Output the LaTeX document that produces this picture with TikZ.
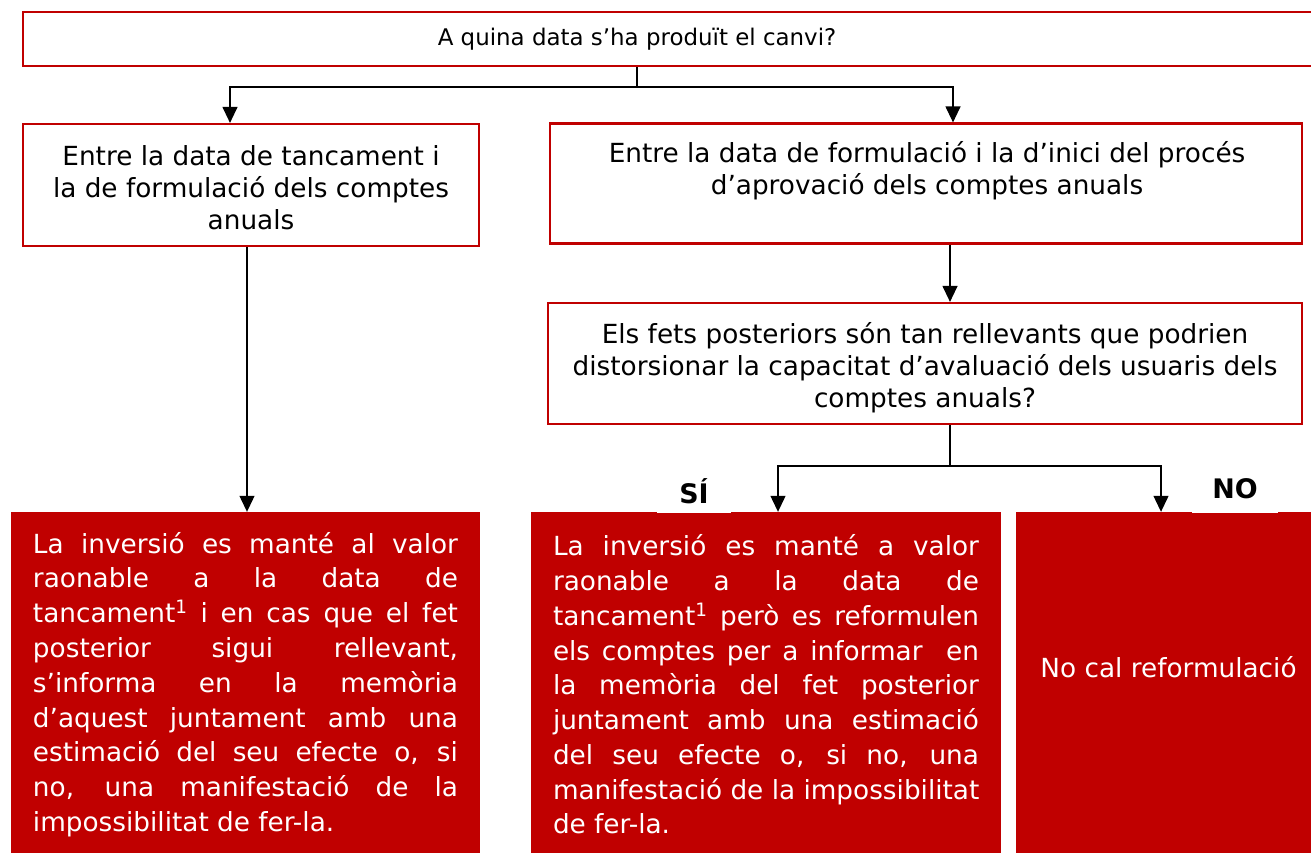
\documentclass[tikz,border=0pt]{standalone}
\usepackage{fontspec}
\setmainfont{DejaVu Sans}
\usetikzlibrary{arrows.meta,calc}
\definecolor{dred}{RGB}{192,0,0}
\newlength{\jw}
\newcommand{\jline}[1]{\hbox to \jw{\spaceskip=0.318em plus 1fil\relax #1}}
\newcommand{\lline}[1]{\hbox to \jw{#1\hfil}}
\tikzset{
  frame/.style={draw=dred, line width=2.2bp, fill=white, inner sep=0pt},
  redbox/.style={fill=dred, draw=none, text=white, inner sep=0pt},
  conn/.style={draw=black, line width=1.2bp},
  arr/.style={conn, -{Triangle[width=15bp,length=16bp]}},
  txt/.style={font=\fontsize{26.4}{32}\selectfont, align=center, inner sep=0pt},
  toptxt/.style={font=\fontsize{23}{28}\selectfont, inner sep=0pt},
  rtxt/.style={font=\fontsize{26.4}{34.9}\selectfont},
  lbl/.style={fill=white, font=\fontsize{27}{30}\selectfont\bfseries, inner sep=0pt, anchor=south},
}
\begin{document}
\begin{tikzpicture}[x=1bp,y=-1bp]
\useasboundingbox (0,0) rectangle (1311,852);
\clip (0,0) rectangle (1311,852);

% top box
\node[frame, minimum width=1298bp, minimum height=54bp, anchor=north west] (top) at (22,11) {};
\node[toptxt] (toptext) at (637,39.5) {A quina data s’ha produït el canvi?};

% second row
\node[frame, minimum width=456bp, minimum height=122bp] (left) at (251,185) {};
\node[txt] (lefttext) at (251,187.5)
  {Entre la data de tancament i\\la de formulació dels comptes\\anuals};
\node[frame, minimum width=752bp, minimum height=120bp] (right) at (926,183.5) {};
\node[txt] (righttext) at (927,171)
  {Entre la data de formulació i la d’inici del procés\\d’aprovació dels comptes anuals};

% question
\node[frame, minimum width=754bp, minimum height=121bp] (quest) at (925,363.5) {};
\node[txt] (questtext) at (925,367.5)
  {Els fets posteriors són tan rellevants que podrien\\distorsionar la capacitat d’avaluació dels usuaris dels\\comptes anuals?};

% red boxes
\node[redbox, minimum width=469bp, minimum height=345bp, rtxt] (res1) at (245.5,684.5) {%
\setlength{\jw}{425bp}\parbox{425bp}{%
\jline{La inversió es manté al valor}
\jline{raonable a la data de}
\jline{tancament\textsuperscript{1} i en cas que el fet}
\jline{posterior sigui rellevant,}
\jline{s’informa en la memòria}
\jline{d’aquest juntament amb una}
\jline{estimació del seu efecte o, si}
\jline{no, una manifestació de la}
\lline{impossibilitat de fer-la.}}};

\node[redbox, minimum width=470bp, minimum height=345bp, rtxt] (res2) at (766,684.5) {%
\setlength{\jw}{426bp}\parbox{426bp}{%
\jline{La inversió es manté a valor}
\jline{raonable a la data de}
\jline{tancament\textsuperscript{1} però es reformulen}
\jline{els comptes per a informar\ \ en}
\jline{la memòria del fet posterior}
\jline{juntament amb una estimació}
\jline{del seu efecte o, si no, una}
\jline{manifestació de la impossibilitat}
\lline{de fer-la.}}};

\node[redbox, minimum width=304bp, minimum height=345bp] (res3) at (1168,684.5) {};
\node[txt, text=white] (res3text) at (1168.5,667) {No cal reformulació};

% labels
\node[lbl, minimum width=74bp, minimum height=44bp] (si) at (694,513.5) {SÍ};
\node[lbl, minimum width=86bp, minimum height=50bp] (no) at (1235,513.5) {NO};

% connectors
\coordinate (t1) at (637,87);
\draw[arr] (toptext |- top.south) -- (t1) -| (left.north -| 230,0);
\draw[arr] (t1) -| (right.north -| 953,0);
\draw[arr] (left.south -| 247,0) -- (res1.north -| 247,0);
\draw[arr] (right.south -| 950,0) -- (quest.north -| 950,0);
\coordinate (q1) at (950,466);
\draw[conn] (quest.south -| 950,0) -- (q1);
\draw[arr] (q1) -| (res2.north -| 778,0);
\draw[arr] (q1) -| (res3.north -| 1161,0);
\end{tikzpicture}
\end{document}
